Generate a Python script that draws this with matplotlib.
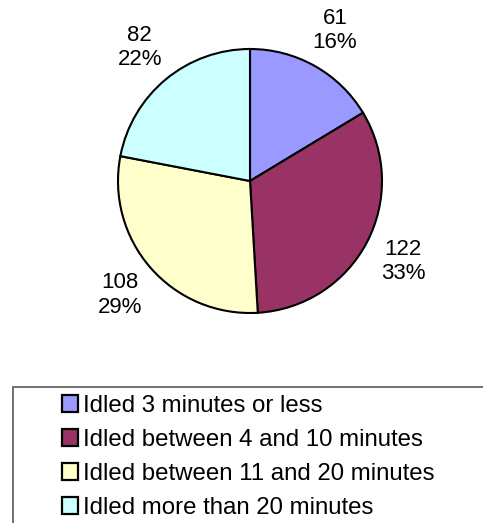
import numpy as np
import matplotlib.pyplot as plt
from matplotlib.patches import Rectangle

plt.rcParams['font.family'] = ['Liberation Sans', 'DejaVu Sans']

labels = ['Idled 3 minutes or less', 'Idled between 4 and 10 minutes',
          'Idled between 11 and 20 minutes', 'Idled more than 20 minutes']
counts = [61, 122, 108, 82]
colors = ['#9999FF', '#993366', '#FFFFCC', '#CCFFFF']

W, H = 483, 523
fig = plt.figure(figsize=(W / 100, H / 100), dpi=100)

# pie centre (250, 181) px from top-left, radius 132 px
cx, cy, r = 250, 181, 132
ax = fig.add_axes([(cx - r) / W, (H - cy - r) / H, 2 * r / W, 2 * r / H])
wedges, _ = ax.pie(counts, colors=colors, startangle=90, counterclock=False,
                   radius=1, wedgeprops=dict(edgecolor='black', linewidth=1.5))
ax.set_xlim(-1, 1)
ax.set_ylim(-1, 1)
ax.set_aspect('equal')

total = sum(counts)
for w, n in zip(wedges, counts):
    mid = np.deg2rad((w.theta1 + w.theta2) / 2)
    d = 1.31
    ax.text(d * np.cos(mid), d * np.sin(mid), '{}\n{:.0f}%'.format(n, 100 * n / total),
            ha='center', va='center', fontsize=16, linespacing=1.2, clip_on=False)

# legend frame, runs off the right and bottom edges
fig.patches.append(Rectangle((13 / W, -0.1), 1, (H - 387) / H + 0.1,
                             transform=fig.transFigure, facecolor='white',
                             edgecolor='#707070', linewidth=1.4))
handles = [Rectangle((0, 0), 1, 1, facecolor=c, edgecolor='black', linewidth=1.6) for c in colors]
fig.legend(handles, labels, loc='upper left', bbox_to_anchor=(62 / W, 1 - 395 / H),
           frameon=False, fontsize=17.3, handlelength=0.67, handleheight=0.67,
           handletextpad=0.2, labelspacing=0.5, borderaxespad=0, borderpad=0)

fig.savefig('out.png', dpi=100)
